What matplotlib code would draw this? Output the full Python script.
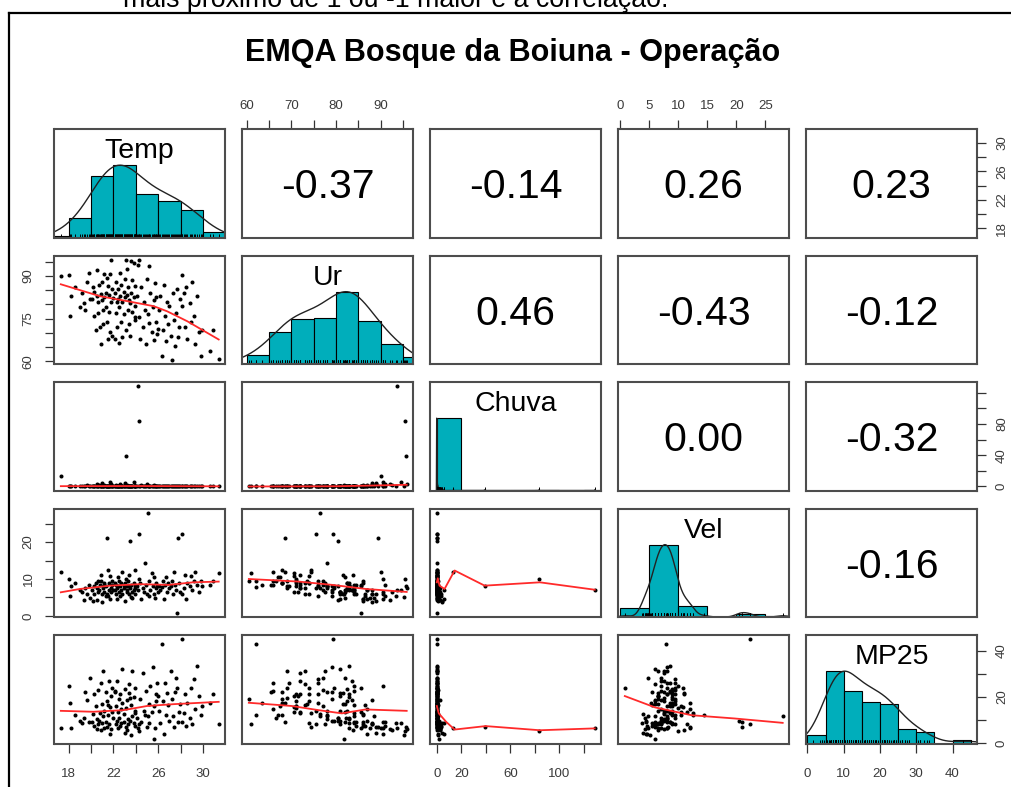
import numpy as np
import matplotlib
matplotlib.use("Agg")
import matplotlib.pyplot as plt
from matplotlib.lines import Line2D
import matplotlib.transforms as mtransforms

plt.rcParams['font.family'] = ['Liberation Sans', 'DejaVu Sans']

W, H = 1012, 787
DPI = 100

# ---------------- data ----------------
var_names = ['Temp', 'Ur', 'Chuva', 'Vel', 'MP25']

temp = [
    17.3,
    18.05, 18.1, 18.2, 18.6, 19.0, 19.2, 19.4, 19.5, 19.6, 19.8, 19.9,
    20.1, 20.2, 20.3, 20.3, 20.4, 20.5, 20.5, 20.6, 20.6, 20.7,
    20.8, 20.9, 20.9, 21.0, 21.0, 21.1, 21.1, 21.2, 21.2, 21.3,
    21.3, 21.4, 21.4, 21.5, 21.5, 21.6, 21.6, 21.7, 21.7, 21.8,
    21.8, 21.9, 21.9, 21.95,
    22.1, 22.1, 22.2, 22.2, 22.3, 22.3, 22.4, 22.4, 22.5, 22.5,
    22.6, 22.6, 22.7, 22.7, 22.8, 22.8, 22.9, 22.9, 23.0, 23.0,
    23.1, 23.1, 23.2, 23.2, 23.3, 23.3, 23.4, 23.4, 23.5, 23.5,
    23.6, 23.6, 23.7, 23.7, 23.8, 23.8, 23.9, 23.9, 23.95, 23.95,
    24.1, 24.2, 24.3, 24.3, 24.4, 24.5, 24.6, 24.7, 24.8, 24.9,
    25.0, 25.1, 25.2, 25.2, 25.3, 25.4, 25.5, 25.6, 25.6, 25.7,
    25.8, 25.8, 25.9, 25.95,
    26.1, 26.2, 26.3, 26.4, 26.5, 26.6, 26.7, 26.8, 26.9, 27.0,
    27.1, 27.2, 27.3, 27.4, 27.5, 27.6, 27.7, 27.8, 27.9, 27.95,
    28.1, 28.1, 28.3, 28.4, 28.5, 28.6, 28.8, 28.9, 29.0, 29.2,
    29.3, 29.5, 29.6, 29.8, 29.9,
    30.6, 30.9, 31.4]

ur = [
    90.0,
    90.5, 76.0, 83.0, 86.0, 79.0, 84.0, 80.5, 78.0, 88.0, 91.0, 82.0,
    82.0, 86.0, 76.0, 84.5, 71.0, 92.0, 83.0, 81.0, 77.0, 87.0,
    72.0, 83.8, 66.0, 81.5, 88.0, 78.0, 73.0, 90.6, 82.5, 79.0,
    84.0, 89.4, 74.0, 86.5, 68.0, 83.5, 77.5, 90.6, 70.5, 80.8,
    95.8, 85.5, 69.0, 82.2,
    84.0, 68.0, 88.0, 77.0, 81.0, 72.0, 85.5, 82.0, 79.0, 66.5,
    91.0, 83.0, 74.0, 87.0, 80.8, 68.5, 84.5, 76.5, 89.0, 82.5,
    95.6, 71.0, 92.5, 83.5, 78.0, 86.0, 73.0, 81.5, 80.5, 69.0,
    95.2, 84.0, 77.5, 88.5, 94.5, 82.8, 74.5, 86.5, 79.5, 75.5,
    83.0, 93.7, 95.5, 75.6, 68.0, 86.0, 72.0, 81.0, 78.0, 66.0,
    89.0, 76.5, 93.5, 73.5, 84.0, 70.5, 79.0, 81.7, 67.5, 87.5,
    74.0, 82.5, 69.5, 71.5,
    78.0, 83.0, 62.0, 71.0, 87.0, 76.0, 67.0, 81.0, 73.0, 79.5,
    69.0, 60.5, 84.0, 74.5, 65.5, 77.0, 85.6, 68.6, 72.0, 82.0,
    79.4, 90.5, 84.0, 72.0, 86.0, 68.0, 80.5, 74.0, 88.0, 76.0,
    66.0, 83.0, 70.5, 62.0, 71.0,
    63.5, 71.0, 61.0]

chuva = [
    13.5,
    0, 0, 0, 0.4, 0, 1.2, 0, 0, 2.5, 0.8, 0,
    0, 0.6, 0, 0, 0, 3.0, 0, 0.2, 0.8, 1.5,
    0, 0, 0, 0, 4.0, 0, 0, 2.0, 0, 0.3,
    0, 0.5, 0, 1.0, 0, 0, 0, 5.5, 0, 0,
    2.8, 0, 0, 0.4,
    0, 0, 1.8, 0, 0, 0, 0.7, 0, 0, 0,
    3.5, 0, 0, 0.2, 0, 0, 0, 0, 4.5, 0,
    39.0, 0, 2.2, 0, 0, 0.5, 0, 0, 0, 0,
    1.2, 0, 0, 0.9, 6.0, 0, 0, 0, 0, 0.3,
    0, 128.7, 83.5, 0, 0, 1.5, 0, 0, 0, 0,
    3.2, 0, 0.8, 0, 0, 0, 0, 2.0, 0, 0.4,
    0, 0, 0, 0,
    0, 0.6, 0, 0, 1.0, 0, 0, 0, 0, 0,
    0, 0, 0.3, 0, 0, 0, 0, 0, 0, 0,
    0, 0.5, 0, 0, 1.0, 0, 0, 0, 0, 0,
    0, 0, 0, 0, 0,
    0, 0, 0]

vel = [
    12.0,
    10.0, 5.3, 8.0, 9.0, 7.0, 6.5, 4.2, 7.5, 6.0, 8.5, 4.8,
    7.0, 4.0, 8.0, 6.0, 9.0, 4.2, 7.5, 6.5, 9.5, 7.0,
    8.5, 11.0, 9.5, 6.0, 3.8, 8.0, 7.5, 6.5, 9.0, 5.5,
    8.0, 21.0, 6.0, 5.5, 12.5, 7.0, 9.0, 4.6, 10.8, 6.5,
    7.5, 8.5, 9.5, 7.0,
    7.0, 9.0, 6.0, 8.5, 4.5, 7.5, 8.0, 10.5, 6.5, 9.5,
    5.5, 8.0, 9.0, 7.0, 6.0, 12.0, 8.5, 7.5, 4.0, 9.0,
    8.2, 10.0, 6.5, 7.0, 8.0, 9.5, 6.0, 11.0, 20.4, 7.5,
    5.2, 8.5, 6.5, 4.8, 7.0, 9.0, 12.5, 6.0, 8.0, 7.5,
    8.0, 7.0, 10.0, 22.3, 9.0, 4.5, 7.5, 6.5, 14.4, 8.5,
    6.0, 28.0, 5.5, 9.5, 7.0, 11.5, 8.0, 6.0, 10.5, 4.8,
    9.0, 7.5, 8.0, 6.5,
    8.0, 7.0, 7.9, 9.5, 4.5, 8.5, 10.5, 6.5, 9.0, 7.5,
    8.0, 9.5, 6.0, 12.0, 8.5, 7.0, 0.8, 21.0, 9.0, 6.5,
    22.3, 6.0, 7.5, 11.0, 4.6, 9.0, 8.0, 10.8, 7.0, 9.5,
    12.0, 8.5, 6.5, 9.5, 8.0,
    8.5, 9.5, 11.5]

mp25 = [
    6.5,
    24.5, 17.5, 6.5, 12.0, 9.5, 8.5, 11.0, 22.0, 18.5, 9.0, 28.0,
    9.0, 12.5, 21.0, 7.5, 16.0, 6.0, 10.5, 8.0, 23.0, 9.5,
    13.0, 5.5, 26.0, 17.0, 8.5, 11.5, 31.0, 6.5, 14.0, 22.0,
    9.0, 7.0, 18.0, 16.5, 12.0, 27.0, 8.0, 4.0, 15.5, 20.5,
    6.0, 13.5, 24.0, 11.0,
    22.5, 22.0, 8.0, 16.0, 9.5, 27.0, 6.5, 13.5, 19.0, 11.0,
    7.5, 21.0, 8.5, 14.5, 32.0, 17.5, 9.0, 12.5, 4.5, 23.5,
    7.0, 15.0, 5.5, 18.5, 10.5, 8.0, 25.5, 21.5, 9.5, 19.5,
    3.5, 16.5, 31.0, 11.5, 8.5, 20.0, 13.0, 7.5, 24.0, 14.0,
    11.0, 6.3, 5.2, 8.0, 19.0, 9.0, 30.5, 14.0, 12.0, 22.5,
    7.0, 11.5, 8.5, 17.0, 24.5, 13.5, 33.0, 1.5, 16.0, 6.5,
    21.0, 18.0, 26.0, 20.5,
    14.0, 8.5, 43.0, 18.0, 4.0, 26.0, 12.0, 21.5, 16.5, 9.5,
    31.0, 19.0, 11.5, 7.0, 22.0, 28.0, 24.0, 9.0, 13.5, 17.0,
    45.0, 9.0, 13.0, 21.0, 7.5, 17.5, 11.0, 24.0, 8.0, 27.5,
    14.5, 33.5, 20.5, 12.0, 16.0,
    17.5, 21.0, 8.0]

# correlations printed in the upper panels (row-major upper triangle)
corr_values = [-0.37, -0.14, 0.26, 0.23, 0.46, -0.43, -0.12, 0.00, -0.32, -0.16]

# histogram breaks
temp_breaks = [16, 18, 20, 22, 24, 26, 28, 30, 32]
ur_breaks = [60, 65, 70, 75, 80, 85, 90, 95, 100]
chuva_breaks = [0, 20, 40, 60, 80, 100, 120, 140]
vel_breaks = [0, 5, 10, 15, 20, 25, 30]
mp25_breaks = [0, 5, 10, 15, 20, 25, 30, 35, 40, 45]

# axis ticks and the labels that are shown
temp_ticks = [18, 20, 22, 24, 26, 28, 30]
temp_labels = [18, 22, 26, 30]
ur_ticks = [60, 65, 70, 75, 80, 85, 90, 95]
ur_labels_top = [60, 70, 80, 90]
ur_labels_side = [60, 75, 90]
chuva_ticks = [0, 20, 40, 60, 80, 100, 120]
chuva_labels_bottom = [0, 20, 60, 100]
chuva_labels_side = [0, 40, 80]
vel_ticks = [0, 5, 10, 15, 20, 25]
vel_labels_top = [0, 5, 10, 15, 20, 25]
vel_labels_side = [0, 10, 20]
mp25_ticks = [0, 10, 20, 30, 40]
mp25_labels_bottom = [0, 10, 20, 30, 40]
mp25_labels_side = [0, 20, 40]

# smoothed (red) lines
loess_temp_ur_x = [17.3, 20.8, 23.2, 25.6, 26.8, 28.6, 31.4]
loess_temp_ur_y = [87.1, 82.9, 81.2, 79.4, 77.6, 74.1, 67.7]
loess_temp_chuva_x = [17.3, 24.0, 31.4]
loess_temp_chuva_y = [0.4, 0.6, 0.2]
loess_ur_chuva_x = [60.5, 80.0, 88.0, 95.8]
loess_ur_chuva_y = [0.0, 0.3, 1.2, 2.2]
loess_temp_vel_x = [17.3, 19.0, 21.7, 24.4, 26.9, 29.1, 31.4]
loess_temp_vel_y = [6.4, 7.3, 8.2, 8.6, 8.4, 9.1, 9.3]
loess_ur_vel_x = [60.5, 71.7, 79.2, 86.7, 95.8]
loess_ur_vel_y = [10.0, 9.3, 8.4, 7.3, 6.5]
loess_chuva_vel_x = [0.0, 0.8, 2.2, 6.3, 14.5, 39.0, 84.0, 128.7]
loess_chuva_vel_y = [9.1, 10.2, 8.2, 7.3, 12.3, 8.2, 9.1, 7.1]
loess_temp_mp25_x = [17.3, 20.2, 22.9, 25.0, 27.4, 31.4]
loess_temp_mp25_y = [13.9, 13.5, 14.2, 16.0, 16.8, 17.8]
loess_ur_mp25_x = [60.5, 70.1, 76.1, 81.3, 86.6, 95.8]
loess_ur_mp25_y = [17.4, 16.0, 14.2, 12.8, 14.5, 13.9]
loess_chuva_mp25_x = [0.0, 1.6, 7.7, 14.5, 39.8, 84.0, 128.7]
loess_chuva_mp25_y = [16.0, 12.8, 9.1, 5.8, 7.3, 5.5, 6.3]
loess_vel_mp25_x = [0.8, 6.0, 12.3, 19.7, 28.0]
loess_vel_mp25_y = [20.3, 15.4, 12.0, 10.6, 8.7]

title = "EMQA Bosque da Boiuna - Operação"
top_note = "mais próximo de 1 ou -1 maior é a correlação."

# ---------------- styling ----------------
HIST_COL = '#00AEBB'
BOX_COL = '#4d4d4d'
TICK_LBL_COL = '#3a3a3a'

data = [np.array(v, float) for v in (temp, ur, chuva, vel, mp25)]
breaks = [np.array(b, float) for b in (temp_breaks, ur_breaks, chuva_breaks, vel_breaks, mp25_breaks)]
loess = {
    (1, 0): (loess_temp_ur_x, loess_temp_ur_y),
    (2, 0): (loess_temp_chuva_x, loess_temp_chuva_y),
    (2, 1): (loess_ur_chuva_x, loess_ur_chuva_y),
    (3, 0): (loess_temp_vel_x, loess_temp_vel_y),
    (3, 1): (loess_ur_vel_x, loess_ur_vel_y),
    (3, 2): (loess_chuva_vel_x, loess_chuva_vel_y),
    (4, 0): (loess_temp_mp25_x, loess_temp_mp25_y),
    (4, 1): (loess_ur_mp25_x, loess_ur_mp25_y),
    (4, 2): (loess_chuva_mp25_x, loess_chuva_mp25_y),
    (4, 3): (loess_vel_mp25_x, loess_vel_mp25_y),
}


def lims(x):
    lo, hi = x.min(), x.max()
    r = hi - lo
    return lo - 0.04 * r, hi + 0.04 * r


def right_closed_hist(x, b):
    c, _ = np.histogram(-x, bins=-b[::-1])
    return c[::-1]


def density(x):
    n = len(x)
    sd = x.std(ddof=1)
    q25, q75 = np.percentile(x, [25, 75])
    h = min(sd, (q75 - q25) / 1.34)
    bw = 1.06 * h * n ** -0.2 * 1.2
    if bw <= 0:
        return None
    g = np.linspace(x.min() - 3 * bw, x.max() + 3 * bw, 512)
    d = np.exp(-0.5 * ((g[:, None] - x[None, :]) / bw) ** 2).sum(axis=1)
    return g, d / d.max()


fig = plt.figure(figsize=(W / DPI, H / DPI), dpi=DPI)
fig.patch.set_facecolor('white')

col_left = [54.5 + 188.0 * j for j in range(5)]
row_top = [129.0 + 126.5 * i for i in range(5)]
PW, PH = 170.5, 108.5

L = [lims(d) for d in data]

corr_iter = iter(corr_values)
corr_map = {}
for i in range(5):
    for j in range(i + 1, 5):
        corr_map[(i, j)] = next(corr_iter)

axes = {}
for i in range(5):
    for j in range(5):
        ax = fig.add_axes([col_left[j] / W, 1 - (row_top[i] + PH) / H, PW / W, PH / H])
        axes[(i, j)] = ax
        ax.set_facecolor('white')
        ax.set_xlim(*L[j])
        for s in ax.spines.values():
            s.set_color(BOX_COL)
            s.set_linewidth(1.5)
        ax.set_xticks([])
        ax.set_yticks([])
        if i == j:
            ax.set_ylim(0, 1.5)
            x = data[i]
            b = breaks[i]
            c = right_closed_hist(x, b)
            hgt = c / c.max()
            ax.bar(b[:-1], hgt, width=np.diff(b), align='edge', color=HIST_COL,
                   edgecolor='black', linewidth=0.8)
            dd = density(x)
            if dd is not None:
                ax.plot(dd[0], dd[1], color='#222222', lw=1.0)
            ax.vlines(x, 0, 0.05, color='black', lw=0.7)
            ax.text(0.5, 1 - 29.0 / PH, var_names[i], transform=ax.transAxes,
                    ha='center', va='baseline', fontsize=20.5, color='black')
        elif i > j:
            ax.set_ylim(*L[i])
            ax.plot(data[j], data[i], 'o', ms=2.9, color='black', mew=0)
            lx, ly = loess[(i, j)]
            ax.plot(lx, ly, color='#ff2a2a', lw=1.3)
        else:
            ax.set_ylim(0, 1)
            ax.text(0.5, 0.5 - 15.0 / PH, '%.2f' % corr_map[(i, j)], transform=ax.transAxes,
                    ha='center', va='baseline', fontsize=29.5, color='black')

TICK_LEN = 6.8
LBL_FS = 9.5


def xaxis(ax, ticks, labels, where, y_pix):
    ax.set_xticks(ticks)
    ax.set_xticklabels([])
    ax.xaxis.set_ticks_position(where)
    ax.tick_params(axis='x', direction='out', length=TICK_LEN, width=0.9, color='#333333')
    tr = mtransforms.blended_transform_factory(ax.transData, fig.transFigure)
    for t in labels:
        ax.text(t, 1 - y_pix / H, str(t), transform=tr, ha='center', va='baseline',
                fontsize=LBL_FS, color=TICK_LBL_COL, clip_on=False)


def yaxis(ax, ticks, labels, where, x_pix):
    ax.set_yticks(ticks)
    ax.set_yticklabels([])
    ax.yaxis.set_ticks_position(where)
    ax.tick_params(axis='y', direction='out', length=TICK_LEN, width=0.9, color='#333333')
    tr = mtransforms.blended_transform_factory(fig.transFigure, ax.transData)
    for t in labels:
        ax.text(x_pix / W, t, str(t), transform=tr, ha='center', va='baseline',
                rotation=90, rotation_mode='anchor',
                fontsize=LBL_FS, color=TICK_LBL_COL, clip_on=False)


xaxis(axes[(0, 1)], ur_ticks, ur_labels_top, 'top', 109.0)
xaxis(axes[(0, 3)], vel_ticks, vel_labels_top, 'top', 109.0)
xaxis(axes[(4, 0)], temp_ticks, temp_labels, 'bottom', 777.0)
xaxis(axes[(4, 2)], chuva_ticks, chuva_labels_bottom, 'bottom', 777.0)
xaxis(axes[(4, 4)], mp25_ticks, mp25_labels_bottom, 'bottom', 777.0)
yaxis(axes[(1, 0)], ur_ticks, ur_labels_side, 'left', 31.5)
yaxis(axes[(3, 0)], vel_ticks, vel_labels_side, 'left', 31.5)
for (i, tks, lbs) in [(0, temp_ticks, temp_labels), (2, chuva_ticks, chuva_labels_side),
                      (4, mp25_ticks, mp25_labels_side)]:
    ax2 = axes[(i, 4)].twinx()
    ax2.set_ylim(*L[i])
    for s in ax2.spines.values():
        s.set_visible(False)
    yaxis(ax2, tks, lbs, 'right', 1005.0)

fig.text(513 / W, 1 - 61.0 / H, title, ha='center', va='baseline', fontsize=22,
         fontweight='bold', color='black')
# the note above the frame is cut by the top edge in the reference screenshot
fig.text(123 / W, 1 - 7.0 / H, top_note, ha='left', va='baseline', fontsize=19.3,
         color='black')

fig.add_artist(Line2D([9 / W, 9 / W], [0, 1 - 13 / H], transform=fig.transFigure,
                      color='black', lw=1.6))
fig.add_artist(Line2D([9 / W, 1.0], [1 - 13 / H, 1 - 13 / H], transform=fig.transFigure,
                      color='black', lw=1.6))

fig.savefig('out.png', dpi=DPI, facecolor='white')
